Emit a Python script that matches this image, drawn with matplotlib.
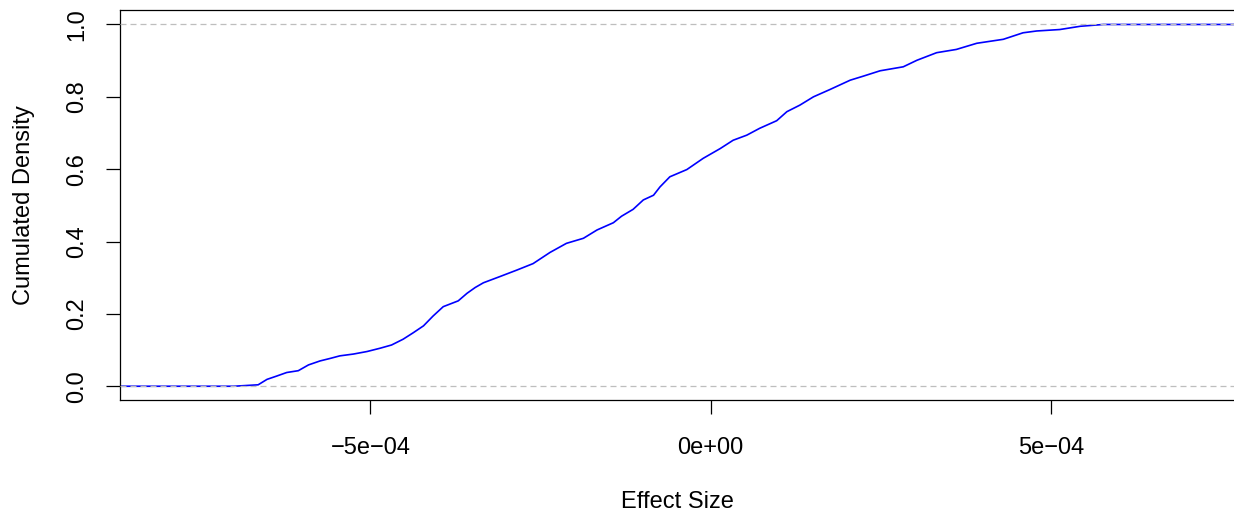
import numpy as np
import matplotlib
matplotlib.use("Agg")
from matplotlib import pyplot as plt

# ECDF points (effect size in units of 1e-4, cumulated density)
effect_e4 = [-7.01, -6.65, -6.52, -6.38, -6.23, -6.06, -5.91, -5.74, -5.59, -5.45,
             -5.25, -5.05, -4.86, -4.69, -4.52, -4.37, -4.22, -4.08, -3.93, -3.71,
             -3.58, -3.46, -3.34, -3.10, -2.85, -2.61, -2.36, -2.12, -1.87, -1.67,
             -1.43, -1.31, -1.14, -0.99, -0.84, -0.745, -0.60, -0.35, -0.11, 0.14,
             0.33, 0.53, 0.72, 0.97, 1.12, 1.31, 1.51, 1.75, 2.05, 2.24,
             2.49, 2.83, 3.03, 3.32, 3.61, 3.91, 4.30, 4.59, 4.79, 5.13,
             5.43, 5.77]
density = [0.000, 0.004, 0.019, 0.028, 0.038, 0.043, 0.059, 0.070, 0.077, 0.084,
           0.089, 0.096, 0.105, 0.114, 0.130, 0.148, 0.167, 0.194, 0.220, 0.236,
           0.257, 0.273, 0.286, 0.303, 0.321, 0.339, 0.370, 0.395, 0.409, 0.432,
           0.452, 0.470, 0.489, 0.515, 0.528, 0.551, 0.579, 0.599, 0.630, 0.657,
           0.680, 0.694, 0.713, 0.734, 0.759, 0.777, 0.800, 0.820, 0.846, 0.857,
           0.872, 0.883, 0.901, 0.922, 0.931, 0.948, 0.959, 0.977, 0.982, 0.986,
           0.995, 1.000]
x_ticks = [-5e-4, 0.0, 5e-4]
x_tick_labels = ["\u22125e\u221204", "0e+00", "5e\u221204"]
y_ticks = [0.0, 0.2, 0.4, 0.6, 0.8, 1.0]
y_tick_labels = ["0.0", "0.2", "0.4", "0.6", "0.8", "1.0"]
x_lim = (-8.68e-4, 7.69e-4)

plt.rcParams['font.family'] = ['Liberation Sans', 'DejaVu Sans']

x = np.array(effect_e4) * 1e-4
y = np.array(density)
# extend flat ends to the plot edges like R's plot.ecdf
x_full = np.concatenate([[x_lim[0]], x, [x_lim[1]]])
y_full = np.concatenate([[0.0], y, [1.0]])

fig = plt.figure(figsize=(12.34, 5.17), dpi=100)
ax = fig.add_axes([120 / 1234, 1 - 400 / 517, 1 - 120 / 1234, 390 / 517])

# the real ecdf has hundreds of tiny steps, so a line through the samples looks the same
ax.plot(x_full, y_full, color="#0000ff", lw=1.2, zorder=2)
for h in (0.0, 1.0):
    ax.axhline(h, color="#bebebe", lw=0.9, linestyle=(0, (4.8, 3.2)), zorder=3)

ax.set_xlim(*x_lim)
ax.set_ylim(-0.038, 1.04)
ax.set_xticks(x_ticks)
ax.set_xticklabels(x_tick_labels)
ax.set_yticks(y_ticks)
ax.set_yticklabels(y_tick_labels, rotation=90, va="center")
ax.tick_params(direction="out", length=10, width=0.9, labelsize=17, pad=17)
ax.tick_params(axis="y", pad=13)
for s in ax.spines.values():
    s.set_linewidth(0.9)
ax.spines["right"].set_visible(False)

ax.set_xlabel("Effect Size", fontsize=17, labelpad=23)
ax.set_ylabel("Cumulated Density", fontsize=17, labelpad=22)

fig.savefig("out.png", dpi=100)
